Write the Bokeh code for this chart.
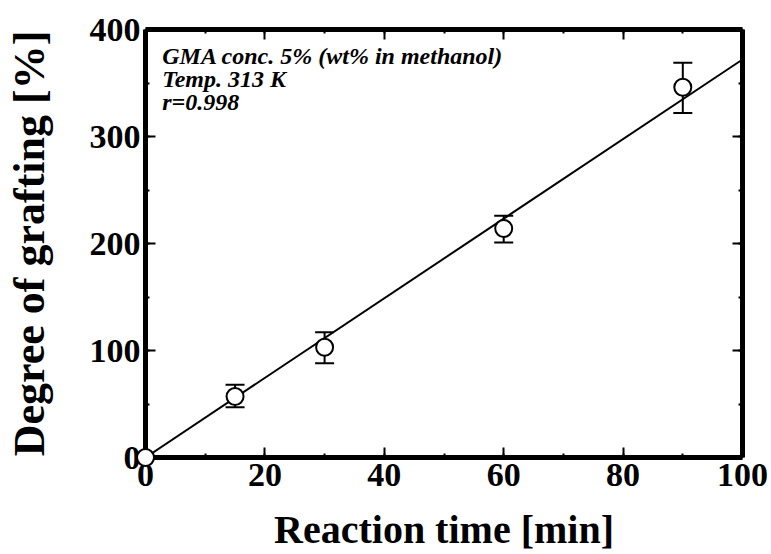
from bokeh.plotting import figure
from bokeh.models import (LinearAxis, SingleIntervalTicker, Whisker, TeeHead,
                          ColumnDataSource, Label, Range1d, CustomJSTickFormatter)
from bokeh.embed import file_html
from bokeh.resources import INLINE

# Grafting data: reaction time [min] vs degree of grafting [%]
time_min = [0, 15, 30, 60, 90]
grafting = [0, 57, 103, 214, 346]
err_upper = [0, 68, 117, 226, 369]
err_lower = [0, 47, 88, 201, 322]

# Linear fit through the origin
fit_slope = 3.72
fit_intercept = 0.0
fit_x = [0, 100]

notes = ["GMA conc. 5% (wt% in methanol)", "Temp. 313 K", "r=0.998"]
x_title = "Reaction time [min]"
y_title = "Degree of grafting [%]"

FONT = "'Liberation Serif', 'Times New Roman', serif"

p = figure(frame_width=597, frame_height=428, output_backend="svg",
           toolbar_location=None,
           x_range=Range1d(0, 100), y_range=Range1d(0, 400),
           min_border_left=145, min_border_right=29,
           min_border_top=29, min_border_bottom=97,
           x_axis_label=x_title, y_axis_label=y_title)
p.background_fill_color = "white"
p.border_fill_color = "white"
p.outline_line_color = None
p.grid.visible = False

bottom_axis = p.below[0]
left_axis = p.left[0]

xt = SingleIntervalTicker(interval=20, num_minor_ticks=2)
yt = SingleIntervalTicker(interval=100, num_minor_ticks=2)
bottom_axis.ticker = xt
left_axis.ticker = yt

blank = CustomJSTickFormatter(code="return '';")
top_axis = LinearAxis(ticker=xt, formatter=blank)
right_axis = LinearAxis(ticker=yt, formatter=blank)
p.add_layout(top_axis, "above")
p.add_layout(right_axis, "right")

for ax in [bottom_axis, left_axis, top_axis, right_axis]:
    ax.axis_line_width = 5
    ax.axis_line_color = "black"
    ax.major_tick_in = 10
    ax.major_tick_out = 0
    ax.minor_tick_in = 4
    ax.minor_tick_out = 0
    ax.major_tick_line_width = 2
    ax.minor_tick_line_width = 2
    ax.major_label_text_font = FONT
    ax.major_label_text_font_style = "bold"
    ax.major_label_text_font_size = "34px"
    ax.major_label_text_color = "black"
    ax.axis_label_text_font = FONT
    ax.axis_label_text_font_style = "bold"
    ax.axis_label_text_color = "black"

for ax in [top_axis, right_axis]:
    ax.major_label_standoff = 0

bottom_axis.major_label_standoff = 6
bottom_axis.axis_label_standoff = 18
bottom_axis.axis_label_text_font_size = "40px"
left_axis.major_label_standoff = 5
left_axis.axis_label_standoff = 33
left_axis.axis_label_text_font_size = "44px"

# fitted line
fit_y = [fit_intercept + fit_slope * x for x in fit_x]
p.line(fit_x, fit_y, line_color="black", line_width=2)

# error bars
src = ColumnDataSource(dict(x=time_min, y=grafting, lo=err_lower, hi=err_upper))
wh = Whisker(source=src, base="x", upper="hi", lower="lo",
             line_color="black", line_width=2,
             upper_head=TeeHead(size=19, line_color="black", line_width=2),
             lower_head=TeeHead(size=19, line_color="black", line_width=2))
p.add_layout(wh)

# data points
pts = p.scatter("x", "y", source=src, marker="circle", size=17,
                fill_color="white", line_color="black", line_width=2)
pts.level = "overlay"

# condition notes
for i, t in enumerate(notes):
    p.add_layout(Label(x=2.8, y=375.5 - i * 21.5, text=t, text_font=FONT,
                       text_font_style="bold italic", text_font_size="24px",
                       text_color="black", text_baseline="alphabetic"))

open("out.html", "w").write(file_html(p, INLINE))
